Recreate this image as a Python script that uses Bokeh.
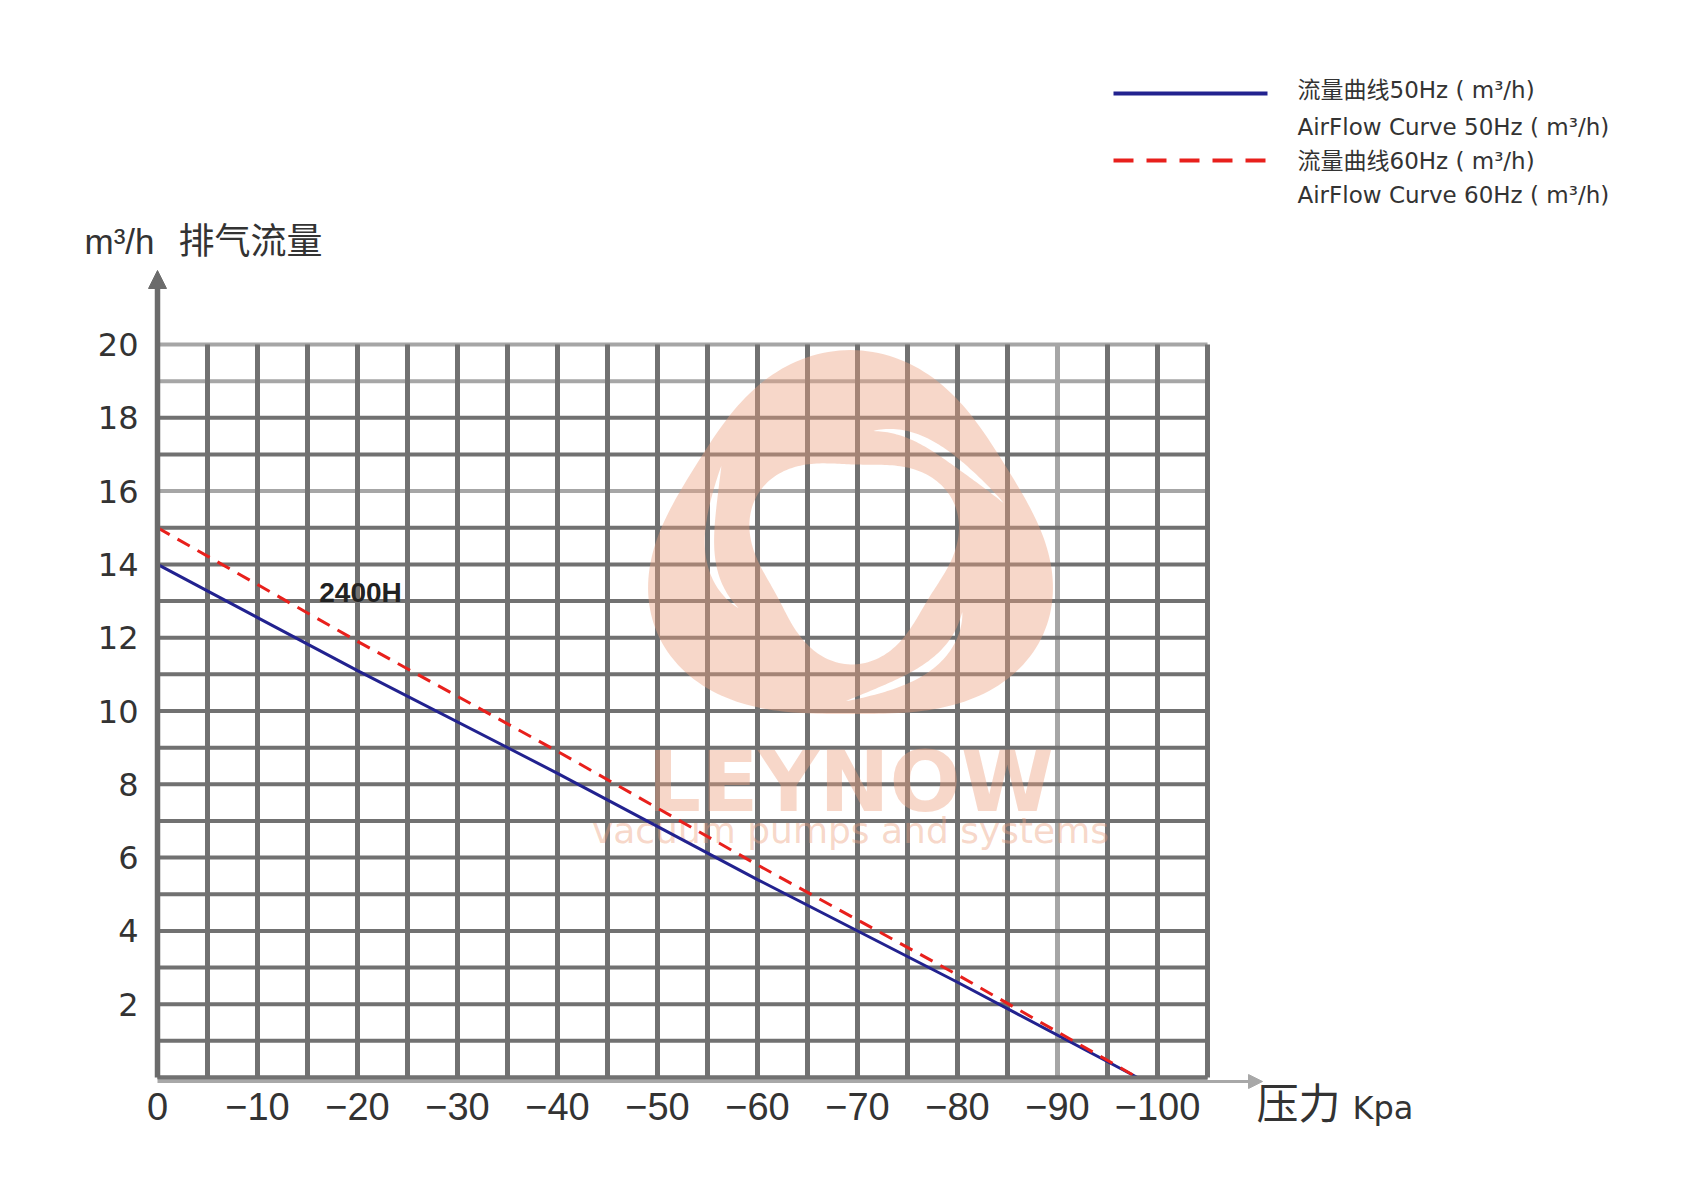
import numpy as np
from bokeh.plotting import figure
from bokeh.models import Range1d, FixedTicker, Arrow, NormalHead, Label
from bokeh.core.properties import value
from bokeh.embed import file_html
from bokeh.resources import INLINE

# ---------------- data ----------------
pressure_50 = [0, -20, -40, -60, -80, -98]
flow_50 = [14.0, 11.1, 8.3, 5.4, 2.6, 0.0]
pressure_60 = [0, -20, -40, -60, -80, -98]
flow_60 = [15.0, 11.9, 8.9, 5.8, 2.8, 0.0]

x_ticks = [0, -10, -20, -30, -40, -50, -60, -70, -80, -90, -100]
x_tick_labels = ["0", "−10", "−20", "−30", "−40", "−50", "−60", "−70", "−80", "−90", "−100"]
y_ticks = [2, 4, 6, 8, 10, 12, 14, 16, 18, 20]
y_tick_labels = ["2", "4", "6", "8", "10", "12", "14", "16", "18", "20"]

legend_cn = ["流量曲线50Hz ( m³/h)", "流量曲线60Hz ( m³/h)"]
legend_en = ["AirFlow Curve 50Hz ( m³/h)", "AirFlow Curve 60Hz ( m³/h)"]
model_name = "2400H"
y_title_unit = "m³/h"
y_title_cn = "排气流量"
x_title_cn = "压力"
x_title_unit = "Kpa"
brand = "LEYNOW"
slogan = "vacuum pumps and systems"

# ---------------- layout (screen pixels) ----------------
W, H = 1696, 1196
X0, PXX = 157, 10.0       # screen x of pressure 0, px per kPa
Y0, PXY = 1077, 36.65     # screen y of flow 0, px per m3/h


def dx(px):
    return -(px - X0) / PXX


def dy(py):
    return (Y0 - py) / PXY


p = figure(width=W, height=H, output_backend="svg", toolbar_location=None,
           x_range=Range1d(dx(0), dx(W)), y_range=Range1d(dy(H), dy(0)),
           min_border=0)
p.outline_line_color = None
p.grid.visible = False
p.background_fill_color = "white"
p.border_fill_color = "white"

# ---------------- axes (drawn inside the frame, at 0) ----------------
p.xaxis.ticker = FixedTicker(ticks=x_ticks)
p.xaxis.major_label_overrides = {t: l for t, l in zip(x_ticks, x_tick_labels)}
p.yaxis.ticker = FixedTicker(ticks=y_ticks)
p.yaxis.major_label_overrides = {t: l for t, l in zip(y_ticks, y_tick_labels)}
p.xaxis.fixed_location = 0
p.yaxis.fixed_location = 0
for ax in (p.xaxis, p.yaxis):
    ax.axis_line_color = None
    ax.major_tick_line_color = None
    ax.minor_tick_line_color = None
    ax.major_tick_out = 0
    ax.major_tick_in = 0
    ax.major_label_text_color = "#333333"
p.xaxis.major_label_text_font = "Liberation Sans"
p.xaxis.major_label_text_font_size = "38px"
p.xaxis.major_label_standoff = 15
p.yaxis.major_label_text_font = "DejaVu Sans"
p.yaxis.major_label_text_font_size = "32px"
p.yaxis.major_label_standoff = 19

# ---------------- grid ----------------
DARK, LIGHT = "#717171", "#a6a6a6"
gx = np.arange(-5, -106, -5)
gy = np.arange(0, 21, 1)
light_x = {-90}
light_y = {16, 19, 20}
x_max = gx[-1]
for want_light in (True, False):
    hy = [v for v in gy if (v in light_y) == want_light]
    if hy:
        p.segment(x0=[0] * len(hy), x1=[x_max] * len(hy), y0=hy, y1=hy,
                  line_color=LIGHT if want_light else DARK, line_width=4)
    vx = [v for v in gx if (v in light_x) == want_light]
    if vx:
        p.segment(x0=vx, x1=vx, y0=[0] * len(vx), y1=[20] * len(vx),
                  line_color=LIGHT if want_light else DARK, line_width=5)

# ---------------- watermark logo (shape in screen px, mapped to data) ----------------
th = np.linspace(0, 2 * np.pi, 240, endpoint=False)
r_out = 182 * (1 + 0.09 * np.cos(3 * (th - np.pi / 2)))
outer_px = (850 + 1.08 * r_out * np.cos(th), 548 - r_out * np.sin(th))
r_in = 100 * (1 + 0.12 * np.cos(3 * (th - np.pi / 2)))
inner_px = (853 + r_in * np.cos(th[::-1]), 552 - r_in * np.sin(th[::-1]))


def sliver(theta0_deg):
    t = np.linspace(0, 1, 60)
    a = np.deg2rad(theta0_deg) - np.deg2rad(62) * t
    ri = 100 * (1 + 0.12 * np.cos(3 * (a - np.pi / 2))) + 11
    ro = 182 * (1 + 0.09 * np.cos(3 * (a - np.pi / 2))) - 15
    r = ri + (ro - ri) * t
    w = 9 * np.sin(np.pi * t) ** 0.8
    r1, r2 = r + w / 2, r - w / 2
    xs = np.concatenate([851 + 1.04 * r1 * np.cos(a), (851 + 1.04 * r2 * np.cos(a))[::-1]])
    ys = np.concatenate([550 - r1 * np.sin(a), (550 - r2 * np.sin(a))[::-1]])
    return xs[::-1], ys[::-1]


rings = [outer_px, inner_px] + [sliver(a0) for a0 in (80, 208, 330)]
wm_xs = [[[[dx(v) for v in rx] for rx, ry in rings]]]
wm_ys = [[[[dy(v) for v in ry] for rx, ry in rings]]]
p.multi_polygons(xs=wm_xs, ys=wm_ys, fill_color="#ec9f7e", fill_alpha=0.42, line_color=None)
p.text(x=[dx(850)], y=[dy(781)], text=[brand], text_align="center", text_baseline="middle",
       text_font=value("DejaVu Sans"), text_font_style="bold", text_font_size="84px",
       text_color="#ec9f7e", text_alpha=0.42)
p.text(x=[dx(850)], y=[dy(830)], text=[slogan], text_align="center", text_baseline="middle",
       text_font=value("DejaVu Sans"), text_font_size="36px",
       text_color="#ec9f7e", text_alpha=0.42)

# ---------------- curves ----------------
BLUE, RED = "#22228f", "#e8201c"
p.line(pressure_50, flow_50, line_color=BLUE, line_width=3)
p.line(pressure_60, flow_60, line_color=RED, line_width=3, line_dash="14 9")

# ---------------- axis arrows ----------------
p.add_layout(Arrow(end=NormalHead(size=18, fill_color="#6b6b6b", line_color="#6b6b6b", line_width=1),
                   x_start=0, y_start=0, x_end=0, y_end=dy(270),
                   line_color="#6b6b6b", line_width=5.5))
p.add_layout(Arrow(end=NormalHead(size=14, fill_color="#a8a8a8", line_color="#a8a8a8", line_width=1),
                   x_start=0, y_start=dy(1081), x_end=dx(1262), y_end=dy(1081),
                   line_color="#a8a8a8", line_width=3))
p.segment(x0=[0], x1=[x_max], y0=[0], y1=[0], line_color=DARK, line_width=4)

# ---------------- texts ----------------
p.text(x=[dx(360)], y=[dy(592)], text=[model_name], text_align="center", text_baseline="middle",
       text_font=value("Liberation Sans"), text_font_style="bold", text_font_size="28px",
       text_color="#222222")

# legend
p.line([dx(1113), dx(1267)], [dy(93), dy(93)], line_color=BLUE, line_width=4)
p.line([dx(1113), dx(1267)], [dy(160), dy(160)], line_color=RED, line_width=4, line_dash="20 13")
leg_font = value("'DejaVu Sans', 'Noto Sans CJK SC'")
p.text(x=[dx(1297)] * 4, y=[dy(89), dy(126), dy(160), dy(194)],
       text=[legend_cn[0], legend_en[0], legend_cn[1], legend_en[1]],
       text_align="left", text_baseline="middle", text_font=leg_font,
       text_font_size="23px", text_color="#333333")

# axis titles
p.add_layout(Label(x=dx(84), y=dy(241), text=y_title_unit, text_align="left",
                   text_baseline="alphabetic", text_font="Liberation Sans",
                   text_font_size="35px", text_color="#333333"))
p.add_layout(Label(x=dx(178), y=dy(237), text=y_title_cn, text_align="left",
                   text_baseline="alphabetic", text_font="Noto Sans CJK SC",
                   text_font_size="36px", text_color="#333333"))
p.add_layout(Label(x=dx(1256), y=dy(1100), text=x_title_cn, text_align="left",
                   text_baseline="alphabetic", text_font="Noto Sans CJK SC",
                   text_font_size="42px", text_color="#333333"))
p.add_layout(Label(x=dx(1352), y=dy(1107), text=x_title_unit, text_align="left",
                   text_baseline="alphabetic", text_font="DejaVu Sans",
                   text_font_size="32px", text_color="#333333"))

open("out.html", "w").write(file_html(p, INLINE))
